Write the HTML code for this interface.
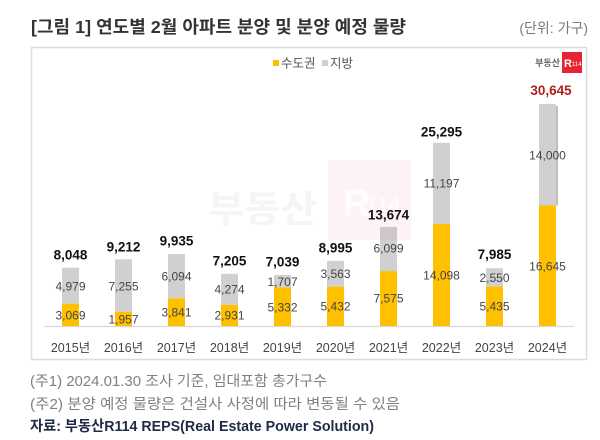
<!DOCTYPE html>
<html><head><meta charset="utf-8"><style>
html,body{margin:0;padding:0;background:#fff;}
svg{display:block;}
text{font-family:"Liberation Sans","Noto Sans CJK KR",sans-serif;}
</style></head><body>
<svg width="600" height="440" viewBox="0 0 600 440" xmlns="http://www.w3.org/2000/svg">
<rect width="600" height="440" fill="#fff"/>
<!-- title -->
<text x="31" y="33" font-size="17.5" font-weight="bold" fill="#333" textLength="375" lengthAdjust="spacingAndGlyphs">[그림 1] 연도별 2월 아파트 분양 및 분양 예정 물량</text>
<text x="588" y="33" font-size="14" fill="#7a7a7a" text-anchor="end">(단위: 가구)</text>
<!-- frame -->
<rect x="31.5" y="47.5" width="555" height="312" fill="#fff" stroke="#dcdcdc" stroke-width="1.5"/>
<!-- legend -->
<rect x="273" y="60" width="6" height="6" fill="#ffc000"/>
<text x="281" y="67.5" font-size="12.5" fill="#555">수도권</text>
<rect x="322" y="60" width="6" height="6" fill="#d0d0d0"/>
<text x="330" y="67.5" font-size="12.5" fill="#555">지방</text>
<!-- logo -->
<text x="560" y="66" font-size="9" font-weight="bold" fill="#666" text-anchor="end">부동산</text>
<rect x="562" y="52" width="20" height="21" fill="#e52531"/>
<text x="564" y="67" font-size="11" font-weight="bold" fill="#fff">R</text>
<text x="572" y="66" font-size="6" fill="#fff">114</text>
<!-- watermark text -->
<text x="208" y="222" font-size="37" font-weight="bold" fill="#f5f5f5" textLength="109" lengthAdjust="spacingAndGlyphs">부동산</text>
<!-- axis -->
<line x1="44" y1="326.5" x2="574" y2="326.5" stroke="#d9d9d9" stroke-width="1.2"/>
<!-- bars -->
<g>
<rect x="62" y="267.7" width="17" height="36.1" fill="#d0d0d0"/><rect x="62" y="303.8" width="17" height="22.2" fill="#ffc000"/>
<rect x="115" y="259.3" width="17" height="52.5" fill="#d0d0d0"/><rect x="115" y="311.8" width="17" height="14.2" fill="#ffc000"/>
<rect x="168" y="254.0" width="17" height="44.2" fill="#d0d0d0"/><rect x="168" y="298.2" width="17" height="27.8" fill="#ffc000"/>
<rect x="221" y="273.8" width="17" height="31.0" fill="#d0d0d0"/><rect x="221" y="304.8" width="17" height="21.2" fill="#ffc000"/>
<rect x="274" y="275.0" width="17" height="12.4" fill="#d0d0d0"/><rect x="274" y="287.4" width="17" height="38.6" fill="#ffc000"/>
<rect x="327" y="260.8" width="17" height="25.8" fill="#d0d0d0"/><rect x="327" y="286.6" width="17" height="39.4" fill="#ffc000"/>
<rect x="380" y="226.9" width="17" height="44.2" fill="#d0d0d0"/><rect x="380" y="271.1" width="17" height="54.9" fill="#ffc000"/>
<rect x="433" y="142.8" width="17" height="81.1" fill="#d0d0d0"/><rect x="433" y="223.9" width="17" height="102.1" fill="#ffc000"/>
<rect x="486" y="268.2" width="17" height="18.4" fill="#d0d0d0"/><rect x="486" y="286.6" width="17" height="39.4" fill="#ffc000"/>
<rect x="539" y="104" width="17" height="101.4" fill="#d0d0d0"/><rect x="539" y="205.4" width="17" height="120.6" fill="#ffc000"/>
<rect x="556" y="106" width="2" height="99.4" fill="#bdbdbd"/>
</g>
<!-- watermark pink box -->
<rect x="328" y="160" width="83" height="80" fill="#e52531" opacity="0.055"/>
<text x="343" y="216" font-size="38" font-weight="bold" fill="#fff" opacity="0.8">R</text>
<text x="366" y="212" font-size="20" font-weight="bold" fill="#fff" opacity="0.7" textLength="34" lengthAdjust="spacingAndGlyphs">114</text>
<!-- inner labels -->
<g font-size="12" fill="#444" text-anchor="middle">
<text x="70.5" y="290.3">4,979</text><text x="70.5" y="319.3">3,069</text>
<text x="123.5" y="290.3">7,255</text><text x="123.5" y="323.3">1,957</text>
<text x="176.5" y="280.3">6,094</text><text x="176.5" y="316.3">3,841</text>
<text x="229.5" y="293.3">4,274</text><text x="229.5" y="319.3">2,931</text>
<text x="282.5" y="285.8">1,707</text><text x="282.5" y="311.3">5,332</text>
<text x="335.5" y="277.8">3,563</text><text x="335.5" y="310.3">5,432</text>
<text x="388.5" y="252.3">6,099</text><text x="388.5" y="302.3">7,575</text>
<text x="441.5" y="187.3">11,197</text><text x="441.5" y="279.3">14,098</text>
<text x="494.5" y="281.8">2,550</text><text x="494.5" y="310.3">5,435</text>
<text x="547.5" y="159.3">14,000</text><text x="547.5" y="270.3">16,645</text>
</g>
<!-- totals -->
<g font-size="13.5" font-weight="bold" fill="#111" text-anchor="middle">
<text x="70.5" y="259.7">8,048</text>
<text x="123.5" y="251.3">9,212</text>
<text x="176.5" y="245.7">9,935</text>
<text x="229.5" y="265.5">7,205</text>
<text x="282.5" y="266.7">7,039</text>
<text x="335.5" y="252.5">8,995</text>
<text x="388.5" y="219.6">13,674</text>
<text x="441.5" y="136.5">25,295</text>
<text x="494.5" y="259.0">7,985</text>
<text x="551" y="95" fill="#b01e1e">30,645</text>
</g>
<!-- year labels -->
<g font-size="12.5" fill="#444" text-anchor="middle">
<text x="70.5" y="352">2015년</text>
<text x="123.5" y="352">2016년</text>
<text x="176.5" y="352">2017년</text>
<text x="229.5" y="352">2018년</text>
<text x="282.5" y="352">2019년</text>
<text x="335.5" y="352">2020년</text>
<text x="388.5" y="352">2021년</text>
<text x="441.5" y="352">2022년</text>
<text x="494.5" y="352">2023년</text>
<text x="547.5" y="352">2024년</text>
</g>
<!-- footnotes -->
<text x="30" y="386" font-size="14.5" fill="#808080" textLength="297" lengthAdjust="spacingAndGlyphs">(주1) 2024.01.30 조사 기준, 임대포함 총가구수</text>
<text x="30" y="409" font-size="14.5" fill="#808080" textLength="370" lengthAdjust="spacingAndGlyphs">(주2) 분양 예정 물량은 건설사 사정에 따라 변동될 수 있음</text>
<text x="30" y="431" font-size="14.5" font-weight="bold" fill="#1f2a44" textLength="344" lengthAdjust="spacingAndGlyphs">자료: 부동산R114 REPS(Real Estate Power Solution)</text>
</svg>
</body></html>
